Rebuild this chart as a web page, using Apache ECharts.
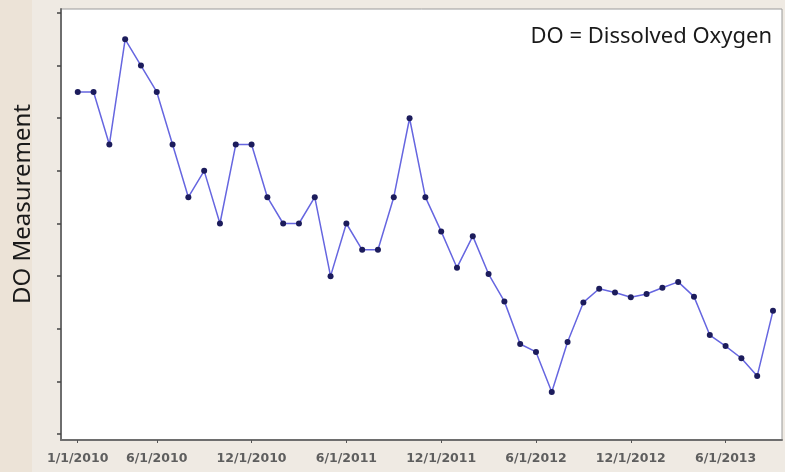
<!DOCTYPE html>
<html>
<head>
<meta charset="utf-8">
<script src="https://cdn.jsdelivr.net/npm/echarts@6/dist/echarts.min.js"></script>
<style>
  html, body { margin: 0; padding: 0; background: #efeae3; }
  #chart { width: 785px; height: 472px; }
</style>
</head>
<body>
<div id="chart"></div>
<script>
// monthly samples, Jan 2010 .. Sep 2013
const months = [
  '1/1/2010', '2/1/2010', '3/1/2010', '4/1/2010', '5/1/2010', '6/1/2010',
  '7/1/2010', '8/1/2010', '9/1/2010', '10/1/2010', '11/1/2010', '12/1/2010',
  '1/1/2011', '2/1/2011', '3/1/2011', '4/1/2011', '5/1/2011', '6/1/2011',
  '7/1/2011', '8/1/2011', '9/1/2011', '10/1/2011', '11/1/2011', '12/1/2011',
  '1/1/2012', '2/1/2012', '3/1/2012', '4/1/2012', '5/1/2012', '6/1/2012',
  '7/1/2012', '8/1/2012', '9/1/2012', '10/1/2012', '11/1/2012', '12/1/2012',
  '1/1/2013', '2/1/2013', '3/1/2013', '4/1/2013', '5/1/2013', '6/1/2013',
  '7/1/2013', '8/1/2013', '9/1/2013'
];
const doValues = [
  6.5, 6.5, 5.5, 7.5, 7.0, 6.5, 5.5, 4.5, 5.0, 4.0, 5.5, 5.5,
  4.5, 4.0, 4.0, 4.5, 3.0, 4.0, 3.5, 3.5, 4.5, 6.0, 4.5, 3.85,
  3.16, 3.76, 3.04, 2.52, 1.71, 1.56, 0.8, 1.75, 2.5, 2.76, 2.69, 2.6,
  2.66, 2.78, 2.89, 2.61, 1.88, 1.67, 1.44, 1.1, 2.34
];
// labelled ticks on the date axis
const tickLabels = ['1/1/2010', '6/1/2010', '12/1/2010', '6/1/2011', '12/1/2011', '6/1/2012', '12/1/2012', '6/1/2013'];
const yTicks = [0, 1, 2, 3, 4, 5, 6, 7, 8];

const tickIdx = tickLabels.map(function (d) { return months.indexOf(d); });

const myChart = echarts.init(document.getElementById('chart'));
myChart.setOption({
  backgroundColor: '#efeae3',
  animation: false,
  graphic: [
    {
      type: 'rect',
      z: -10,
      shape: { x: 0, y: 0, width: 32, height: 472 },
      style: { fill: '#ece3d7' },
    },
    {
      type: 'text',
      right: 13,
      top: 26,
      style: {
        text: 'DO = Dissolved Oxygen',
        font: '22px "Noto Sans", sans-serif',
        fill: '#1a1a1a',
      },
    },
    {
      // y axis title, rotated
      type: 'text',
      x: 23,
      y: 204,
      rotation: Math.PI / 2,
      style: {
        text: 'DO Measurement',
        font: '24px "Noto Sans", sans-serif',
        fill: '#1a1a1a',
        align: 'center',
        verticalAlign: 'middle',
      },
    },
  ],
  grid: {
    left: 61,
    right: 3,
    top: 9,
    bottom: 32,
    show: true,
    backgroundColor: '#ffffff',
    borderColor: '#9a9a9a',
    borderWidth: 1,
  },
  xAxis: {
    type: 'value',
    min: -1.06,
    max: 44.57,
    splitLine: { show: false },
    axisLine: { show: true, onZero: false, lineStyle: { color: '#6e6e6e', width: 2 } },
    axisTick: {
      show: true,
      customValues: tickIdx,
      length: 3,
      lineStyle: { color: '#555' },
    },
    axisLabel: {
      customValues: tickIdx,
      formatter: function (v) { return months[Math.round(v)]; },
      color: '#5e5e5e',
      fontFamily: 'DejaVu Sans',
      fontWeight: 'bold',
      fontSize: 12.5,
      margin: 12,
    },
  },
  yAxis: {
    type: 'value',
    min: -0.114,
    max: 8.076,
    splitLine: { show: false },
    axisLine: { show: true, onZero: false, lineStyle: { color: '#6e6e6e', width: 2 } },
    axisTick: {
      show: true,
      customValues: yTicks,
      length: 4,
      lineStyle: { color: '#444', width: 1.5 },
    },
    axisLabel: { show: false },
  },
  series: [
    {
      name: 'DO',
      type: 'line',
      data: doValues.map(function (v, i) { return [i, v]; }),
      lineStyle: { color: '#6666e0', width: 1.5 },
      symbol: 'circle',
      symbolSize: 6,
      itemStyle: { color: '#1c1c5c' },
    },
  ],
});
</script>
</body>
</html>
